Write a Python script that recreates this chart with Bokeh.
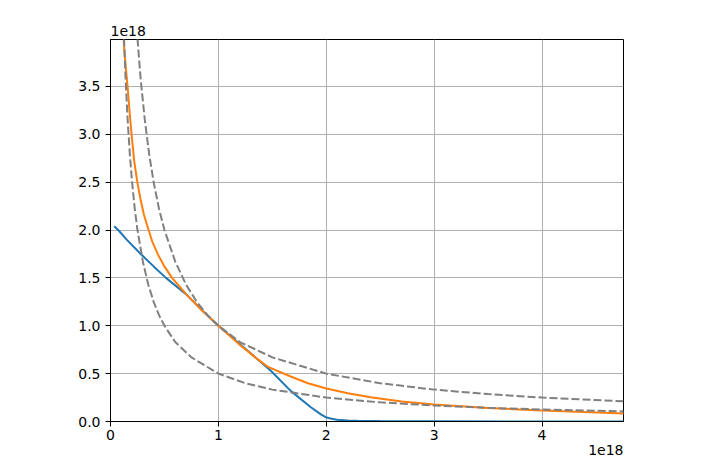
from bokeh.plotting import figure
from bokeh.models import Range1d, FixedTicker, NumeralTickFormatter, Title
from bokeh.embed import file_html
from bokeh.resources import INLINE

# All values are in units of 1e18 (axis offset text "1e18")
x_ticks = [0, 1, 2, 3, 4]
y_ticks = [0.0, 0.5, 1.0, 1.5, 2.0, 2.5, 3.0, 3.5]
offset_text = "1e18"

blue_x = [0.035, 0.08, 0.15, 0.28, 0.4, 0.514, 0.70, 0.85, 1.0, 1.25, 1.486, 1.67, 1.857, 1.95, 1.995, 2.05, 2.1, 2.2, 2.29, 2.5, 3.0, 4.0, 4.76]
blue_y = [2.04, 1.99, 1.90, 1.75, 1.62, 1.50, 1.33, 1.16, 1.0, 0.76, 0.53, 0.32, 0.149, 0.075, 0.045, 0.028, 0.018, 0.011, 0.008, 0.004, 0.002, 0.0, 0.0]

orange_x = [0.122, 0.14, 0.159, 0.178, 0.196, 0.22, 0.25, 0.28, 0.31, 0.35, 0.39, 0.437, 0.5, 0.57, 0.64, 0.7, 0.77, 0.84, 0.92, 1.0, 1.1, 1.2, 1.33, 1.46, 1.67, 1.83, 2.0, 2.2, 2.41, 2.7, 3.0, 3.5, 4.0, 4.76]
orange_y = [3.98, 3.72, 3.49, 3.22, 2.99, 2.72, 2.49, 2.31, 2.16, 2.01, 1.87, 1.75, 1.62, 1.50, 1.41, 1.33, 1.25, 1.17, 1.085, 1.0, 0.90, 0.80, 0.68, 0.57, 0.47, 0.40, 0.344, 0.295, 0.253, 0.21, 0.177, 0.14, 0.115, 0.083]

upper_x = [0.25, 0.28, 0.32, 0.36, 0.4, 0.45, 0.5, 0.6, 0.7, 0.8, 0.9, 1.0, 1.2, 1.5, 2.0, 2.5, 3.0, 3.5, 4.0, 4.76]
upper_y = [4.0, 3.57, 3.13, 2.78, 2.5, 2.22, 2.0, 1.67, 1.43, 1.25, 1.11, 1.0, 0.83, 0.67, 0.5, 0.4, 0.333, 0.286, 0.25, 0.21]

lower_x = [0.125, 0.14, 0.16, 0.18, 0.2, 0.225, 0.25, 0.3, 0.35, 0.4, 0.45, 0.5, 0.6, 0.75, 1.0, 1.25, 1.5, 2.0, 2.5, 3.0, 3.5, 4.0, 4.76]
lower_y = [4.0, 3.57, 3.13, 2.78, 2.5, 2.22, 2.0, 1.67, 1.43, 1.25, 1.11, 1.0, 0.83, 0.67, 0.5, 0.4, 0.333, 0.25, 0.2, 0.167, 0.143, 0.125, 0.105]

FONT = "DejaVu Sans"
FS = "14px"

p = figure(width=710, height=461, output_backend="svg", toolbar_location=None,
           x_range=Range1d(0, 4.755), y_range=Range1d(0, 3.99),
           min_border_left=110, min_border_right=87, min_border_top=39, min_border_bottom=40)

p.title = Title(text=offset_text, align="left", standoff=8, text_font=FONT,
                text_font_size=FS, text_font_style="normal", text_color="black")

p.background_fill_color = "white"
p.border_fill_color = "white"
p.outline_line_color = "black"
p.outline_line_width = 1

for ax in (p.xaxis[0], p.yaxis[0]):
    ax.major_tick_out = 5
    ax.major_tick_in = 0
    ax.minor_tick_line_color = None
    ax.major_label_standoff = 5
    ax.major_label_text_font = FONT
    ax.major_label_text_font_size = FS
    ax.major_label_text_color = "black"
    ax.axis_line_color = "black"
    ax.major_tick_line_color = "black"

p.xaxis[0].major_label_standoff = 3
p.xaxis[0].ticker = FixedTicker(ticks=x_ticks)
p.yaxis[0].ticker = FixedTicker(ticks=y_ticks)
p.xaxis[0].formatter = NumeralTickFormatter(format="0")
p.yaxis[0].formatter = NumeralTickFormatter(format="0.0")

p.xgrid[0].ticker = FixedTicker(ticks=x_ticks)
p.ygrid[0].ticker = FixedTicker(ticks=y_ticks)
for g in (p.xgrid[0], p.ygrid[0]):
    g.grid_line_color = "#b0b0b0"
    g.grid_line_width = 1
    g.grid_line_alpha = 1.0

p.line(blue_x, blue_y, line_color="#1f77b4", line_width=2)
p.line(orange_x, orange_y, line_color="#ff7f0e", line_width=2)
p.line(upper_x, upper_y, line_color="gray", line_width=2, line_dash="8 3")
p.line(lower_x, lower_y, line_color="gray", line_width=2, line_dash="8 3")

p.add_layout(Title(text=offset_text, align="right", standoff=0, text_font=FONT,
                   text_font_size=FS, text_font_style="normal", text_color="black"),
             "below")

open("out.html", "w").write(file_html(p, INLINE))
